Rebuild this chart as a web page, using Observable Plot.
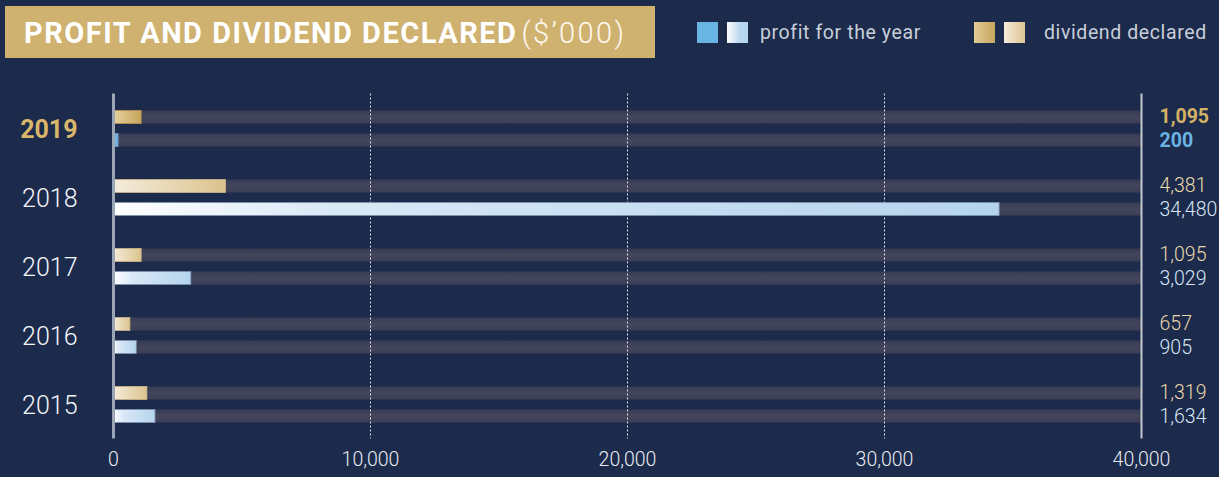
<!DOCTYPE html>
<html>
<head>
<meta charset="utf-8">
<script src="https://cdn.jsdelivr.net/npm/d3@7"></script>
<script src="https://cdn.jsdelivr.net/npm/@observablehq/plot@0.6"></script>
<style>
  html, body { margin: 0; padding: 0; background: #1c2a4b; overflow: hidden; }
  body { width: 1219px; height: 477px; font-family: Roboto, "Open Sans", sans-serif; }
  #header { position: relative; height: 64px; }
  #titlebox { position: absolute; left: 5px; top: 6px; width: 650px; height: 52px; background: #cfb170; box-sizing: border-box; padding-left: 19px; line-height: 54px; white-space: nowrap; }
  #titlebox .main { color: #ffffff; font-weight: 700; font-size: 29px; letter-spacing: 1.5px; }
  #titlebox .unit { color: #fffaf0; font-weight: 300; font-size: 29px; letter-spacing: 2.4px; }
  .sw { position: absolute; top: 22px; width: 21px; height: 21px; }
  .lg { position: absolute; top: 20px; font-size: 19.5px; color: #c8cfd9; letter-spacing: 0.6px; line-height: 26px; }
  #chart svg { display: block; }
</style>
</head>
<body>
<div id="header">
  <div id="titlebox"><span class="main">PROFIT AND DIVIDEND DECLARED</span> <span class="unit">($’000)</span></div>
  <div class="sw" style="left:697px;background:#6ab4e4;"></div>
  <div class="sw" style="left:727px;background:linear-gradient(to right,#ffffff,#bcd8f0 60%,#b4d4ee);"></div>
  <div class="lg" style="left:760px;">profit for the year</div>
  <div class="sw" style="left:974px;background:linear-gradient(to right,#e3cd96,#c6a55e);"></div>
  <div class="sw" style="left:1004px;background:linear-gradient(to right,#f4ecdb,#dcc592);"></div>
  <div class="lg" style="left:1044px;">dividend declared</div>
</div>
<div id="chart"></div>
<script>
const years = ["2019", "2018", "2017", "2016", "2015"];
const dividend = [1095, 4381, 1095, 657, 1319];
const profit = [200, 34480, 3029, 905, 1634];
const xTicks = [0, 10000, 20000, 30000, 40000];
const gridTicks = [10000, 20000, 30000];
const xMax = 40000;
const highlightYear = "2019";

const rows = years.map((y, i) => ({year: y, dividend: dividend[i], profit: profit[i]}));
const hi = rows.filter(d => d.year === highlightYear);
const lo = rows.filter(d => d.year !== highlightYear);
const fmt = d3.format(",");

const defs = () => {
  const g = document.createElementNS("http://www.w3.org/2000/svg", "g");
  g.innerHTML = `<defs>
    <linearGradient id="gProfit" x1="0" x2="1" y1="0" y2="0">
      <stop offset="0" stop-color="#ffffff"/><stop offset="0.25" stop-color="#d9e8f6"/><stop offset="1" stop-color="#b4d4ee"/>
    </linearGradient>
    <linearGradient id="gProfitH" x1="0" x2="1" y1="0" y2="0">
      <stop offset="0" stop-color="#b6dcf4"/><stop offset="0.5" stop-color="#74b9e6"/><stop offset="1" stop-color="#62aee2"/>
    </linearGradient>
    <linearGradient id="gDiv" x1="0" x2="1" y1="0" y2="0">
      <stop offset="0" stop-color="#f4ecdc"/><stop offset="1" stop-color="#dcc38e"/>
    </linearGradient>
    <linearGradient id="gDivH" x1="0" x2="1" y1="0" y2="0">
      <stop offset="0" stop-color="#e6d2a0"/><stop offset="1" stop-color="#c6a45c"/>
    </linearGradient>
    <linearGradient id="gTrack" x1="0" x2="0" y1="0" y2="1">
      <stop offset="0" stop-color="#373b53"/><stop offset="0.5" stop-color="#43465b"/><stop offset="1" stop-color="#3b3e55"/>
    </linearGradient>
  </defs>`;
  return g;
};

const trackDiv = {insetTop: 16.5, insetBottom: 39.5};
const trackProf = {insetTop: 39.5, insetBottom: 16.5};

const plot = Plot.plot({
  width: 1219,
  height: 413,
  marginLeft: 113,
  marginRight: 78,
  marginTop: 29.5,
  marginBottom: 38.5,
  style: {background: "transparent", color: "#e4e8ee", fontSize: "19px", fontFamily: "Roboto, sans-serif"},
  x: {domain: [0, xMax], axis: null},
  y: {domain: years, padding: 0, axis: null},
  marks: [
    defs,
    Plot.barX(rows, {y: "year", x1: 0, x2: xMax, fill: "url(#gTrack)", ...trackDiv}),
    Plot.barX(rows, {y: "year", x1: 0, x2: xMax, fill: "url(#gTrack)", ...trackProf}),
    Plot.ruleX(gridTicks, {stroke: "#ffffff", strokeOpacity: 0.85, strokeDasharray: "2,2", strokeWidth: 1}),
    Plot.barX(rows, {y: "year", x: "dividend", fill: d => d.year === highlightYear ? "url(#gDivH)" : "url(#gDiv)", stroke: d => d.year === highlightYear ? "#b8954c" : "#cdb585", strokeWidth: 0.8, ...trackDiv}),
    Plot.barX(rows, {y: "year", x: "profit", fill: d => d.year === highlightYear ? "url(#gProfitH)" : "url(#gProfit)", stroke: "#7e92ab", strokeWidth: 0.8, ...trackProf}),
    Plot.ruleX([0], {stroke: "#9aa6b6", strokeWidth: 3}),
    Plot.ruleX([xMax], {stroke: "#c4c8d0", strokeWidth: 2}),
    // x tick labels
    Plot.text(xTicks, {x: d => d, text: d => fmt(d), frameAnchor: "bottom", dy: 27, fontSize: 19.5, fontWeight: 300, fill: "#e8ecf2"}),
    // year labels
    Plot.text(lo, {x: 0, y: "year", text: "year", dx: -36, dy: 1, textAnchor: "end", fontSize: 25, fontWeight: 300, fill: "#f4f6fa"}),
    Plot.text(hi, {x: 0, y: "year", text: "year", dx: -36, dy: 1, textAnchor: "end", fontSize: 25, fontWeight: "bold", fill: "#d8b66a"}),
    // value labels
    Plot.text(lo, {x: xMax, y: "year", text: d => fmt(d.dividend), dx: 18, dy: -12, textAnchor: "start", fontSize: 19.5, fontWeight: 300, fill: "#ead8aa"}),
    Plot.text(lo, {x: xMax, y: "year", text: d => fmt(d.profit), dx: 18, dy: 12, textAnchor: "start", fontSize: 19.5, fontWeight: 300, fill: "#d6e6f6"}),
    Plot.text(hi, {x: xMax, y: "year", text: d => fmt(d.dividend), dx: 18, dy: -12, textAnchor: "start", fontSize: 19.5, fontWeight: "bold", fill: "#d4b265"}),
    Plot.text(hi, {x: xMax, y: "year", text: d => fmt(d.profit), dx: 18, dy: 12, textAnchor: "start", fontSize: 19.5, fontWeight: "bold", fill: "#6ab4e4"})
  ]
});
document.getElementById("chart").appendChild(plot);
</script>
</body>
</html>
